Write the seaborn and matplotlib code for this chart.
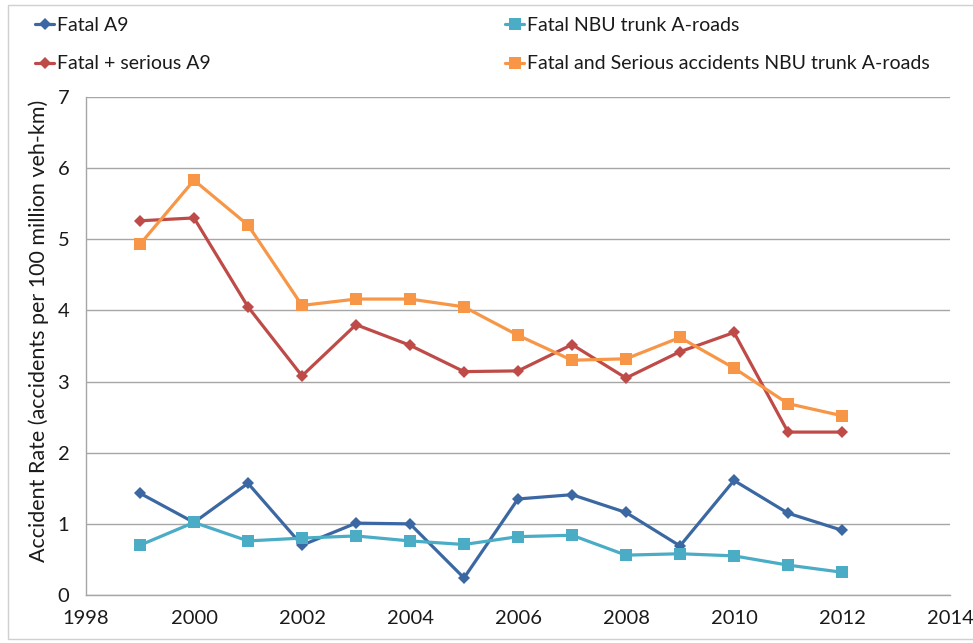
import matplotlib
matplotlib.use("Agg")
import matplotlib.pyplot as plt
from matplotlib.patches import Rectangle
import seaborn as sns
import pandas as pd

years = list(range(1999, 2013))
fatal_a9 = [1.43, 1.02, 1.57, 0.70, 1.01, 1.00, 0.24, 1.35, 1.41, 1.16, 0.69, 1.61, 1.15, 0.91]
fatal_nbu = [0.70, 1.02, 0.76, 0.80, 0.83, 0.76, 0.71, 0.82, 0.84, 0.56, 0.58, 0.55, 0.42, 0.32]
fs_a9 = [5.26, 5.30, 4.05, 3.08, 3.80, 3.51, 3.14, 3.15, 3.52, 3.05, 3.42, 3.69, 2.29, 2.29]
fs_nbu = [4.93, 5.83, 5.20, 4.07, 4.16, 4.16, 4.05, 3.65, 3.30, 3.32, 3.62, 3.19, 2.69, 2.52]

series_names = ["Fatal A9", "Fatal + serious A9", "Fatal NBU trunk A-roads",
                "Fatal and Serious accidents NBU trunk A-roads"]
series_values = [fatal_a9, fs_a9, fatal_nbu, fs_nbu]
series_colors = ["#3B68A3", "#BE4B48", "#4BACC6", "#F79646"]
series_markers = ["D", "D", "s", "s"]
series_msize = [6, 6, 8.5, 8.5]

x_ticks = list(range(1998, 2015, 2))
y_ticks = list(range(0, 8))

sns.set_theme(style="white")
plt.rcParams["font.family"] = ["Lato", "DejaVu Sans"]
plt.rcParams["text.color"] = "#1a1a1a"

W, H = 973, 643
fig = plt.figure(figsize=(W / 100, H / 100), dpi=100)
fig.patch.set_facecolor("white")

# outer chart frame
fig.add_artist(Rectangle((8 / W, 1 - 639 / H), 1.0, (639 - 5) / H,
                         transform=fig.transFigure, fill=False,
                         edgecolor="#D0D0D0", linewidth=1.0))

left, right, top, bottom = 86, 950, 97, 595
ax = fig.add_axes([left / W, 1 - bottom / H, (right - left) / W, (bottom - top) / H])

frames = []
for name, vals in zip(series_names, series_values):
    frames.append(pd.DataFrame({"Year": years, "Rate": vals, "Series": name}))
df = pd.concat(frames, ignore_index=True)

handles = []
for name, col, mk, ms in zip(series_names, series_colors, series_markers, series_msize):
    sub = df[df["Series"] == name]
    sns.lineplot(data=sub, x="Year", y="Rate", ax=ax, color=col, linewidth=2.3,
                 marker=mk, markersize=ms, markeredgewidth=0, label=name, legend=False)
    handles.append(ax.lines[-1])

ax.set_xlim(1998, 2014)
ax.set_ylim(0, 7)
ax.set_xticks(x_ticks)
ax.set_yticks(y_ticks)
ax.set_xlabel("")
ax.set_ylabel("Accident Rate (accidents per 100 million veh-km)", fontsize=15.5,
              color="#1a1a1a")
ax.yaxis.set_label_coords(-0.043, 0.53)

ax.grid(axis="y", color="#A6A6A6", linewidth=1.0)
ax.grid(axis="x", visible=False)
ax.set_axisbelow(True)
for s in ["top", "right"]:
    ax.spines[s].set_visible(False)
for s in ["left", "bottom"]:
    ax.spines[s].set_color("#A6A6A6")
    ax.spines[s].set_linewidth(1.0)

ax.tick_params(axis="both", which="major", direction="out", length=5, width=1.0,
               color="#A6A6A6", labelsize=14.5, labelcolor="#1a1a1a")
ax.tick_params(axis="x", pad=6)
ax.tick_params(axis="y", pad=7)

leg_kw = dict(frameon=False, fontsize=14, handlelength=1.0, handletextpad=0.15,
              labelspacing=1.1, borderpad=0, borderaxespad=0, loc="upper left")
leg1 = fig.legend(handles[0:2], series_names[0:2],
                  bbox_to_anchor=(35 / W, 1 - 17 / H), **leg_kw)
leg2 = fig.legend(handles[2:4], series_names[2:4],
                  bbox_to_anchor=(505 / W, 1 - 17 / H), **leg_kw)

fig.savefig("out.png", dpi=100, facecolor="white")
